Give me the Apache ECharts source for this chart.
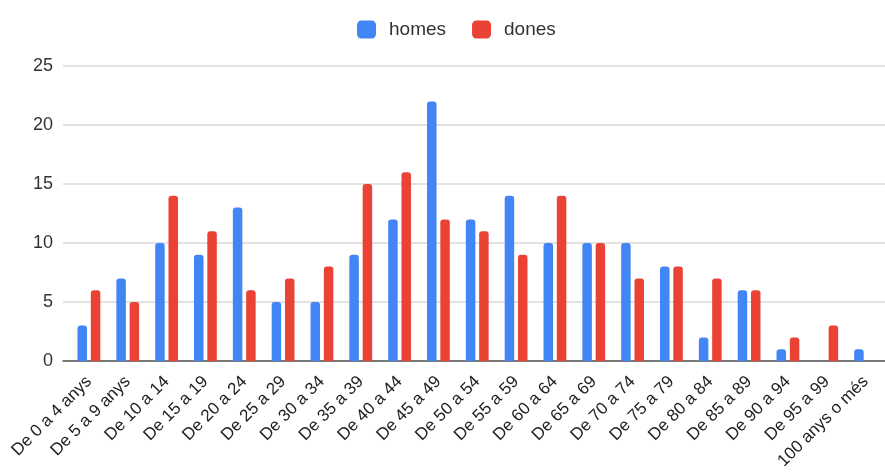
<!DOCTYPE html>
<html>
<head>
<meta charset="utf-8">
<script src="https://cdn.jsdelivr.net/npm/echarts@6/dist/echarts.min.js"></script>
<style>html,body{margin:0;padding:0;background:#fff}#c{width:885px;height:475px}</style>
</head>
<body>
<div id="c"></div>
<script>
const categories = ["De 0 a 4 anys","De 5 a 9 anys","De 10 a 14","De 15 a 19","De 20 a 24","De 25 a 29","De 30 a 34","De 35 a 39","De 40 a 44","De 45 a 49","De 50 a 54","De 55 a 59","De 60 a 64","De 65 a 69","De 70 a 74","De 75 a 79","De 80 a 84","De 85 a 89","De 90 a 94","De 95 a 99","100 anys o més"];
const homes = [3,7,10,9,13,5,5,9,12,22,12,14,10,10,10,8,2,6,1,0,1];
const dones = [6,5,14,11,6,7,8,15,16,12,11,9,14,10,7,8,7,6,2,3,0];
const yTicks = [0,5,10,15,20,25];

const FONT = '"Liberation Sans", Arial, sans-serif';
const chart = echarts.init(document.getElementById('c'), null, {renderer:'canvas'});
chart.setOption({
  animation:false,
  textStyle:{fontFamily:FONT},
  legend:{
    top:15, left:352, itemWidth:19, itemHeight:18, itemGap:26,
    icon:'roundRect',
    textStyle:{fontSize:19,color:'#333',fontFamily:FONT,padding:[0,0,0,8]},
    data:['homes','dones']
  },
  grid:[
    {left:63, right:0, top:66, bottom:114, containLabel:false},
    {left:69.5, width:821, top:66, bottom:114, containLabel:false}
  ],
  xAxis:[
    {gridIndex:0, type:'value', min:0, max:1, show:true,
     axisLine:{show:true, lineStyle:{color:'#555', width:1.5}},
     axisTick:{show:false}, axisLabel:{show:false}, splitLine:{show:false}},
    {gridIndex:1, type:'category', data:categories,
     axisLine:{show:false}, axisTick:{show:false},
     axisLabel:{interval:0, rotate:45, fontSize:17, color:'#222', margin:18, fontFamily:FONT}}
  ],
  yAxis:[
    {gridIndex:0, type:'value', min:yTicks[0], max:yTicks[yTicks.length-1], interval:5,
     axisLine:{show:false}, axisTick:{show:false},
     axisLabel:{fontSize:18, color:'#333', margin:10, fontFamily:FONT},
     splitLine:{lineStyle:{color:'#d9d9d9', width:1.5}}},
    {gridIndex:1, type:'value', min:0, max:25, interval:5, show:false, splitLine:{show:false}}
  ],
  series:[
    {name:'homes', type:'bar', xAxisIndex:1, yAxisIndex:1, data:homes,
     barWidth:9.5, barGap:'40%', itemStyle:{color:'#4285f4', borderRadius:[3,3,0,0]}},
    {name:'dones', type:'bar', xAxisIndex:1, yAxisIndex:1, data:dones,
     barWidth:9.5, barGap:'40%', itemStyle:{color:'#ea4335', borderRadius:[3,3,0,0]}}
  ]
});
</script>
</body>
</html>
